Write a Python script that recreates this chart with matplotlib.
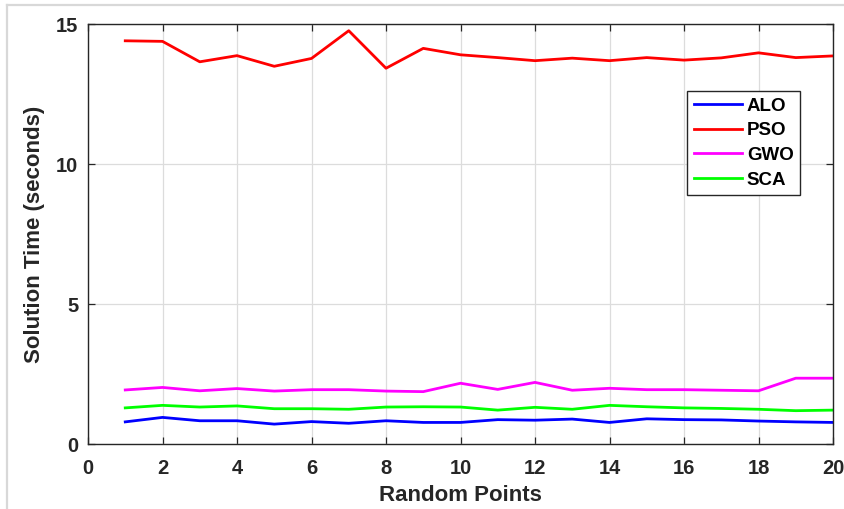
import matplotlib
matplotlib.use("Agg")
import matplotlib.pyplot as plt
from matplotlib.lines import Line2D

x = list(range(1, 21))
alo = [0.79, 0.95, 0.83, 0.83, 0.71, 0.80, 0.74, 0.83, 0.77, 0.77,
       0.87, 0.85, 0.89, 0.77, 0.90, 0.87, 0.86, 0.82, 0.79, 0.77]
pso = [14.40, 14.38, 13.65, 13.87, 13.49, 13.77, 14.76, 13.42, 14.13, 13.90,
       13.80, 13.69, 13.78, 13.69, 13.80, 13.71, 13.79, 13.97, 13.80, 13.86]
gwo = [1.93, 2.02, 1.90, 1.98, 1.89, 1.94, 1.94, 1.89, 1.87, 2.17,
       1.95, 2.20, 1.92, 1.99, 1.94, 1.94, 1.92, 1.90, 2.35, 2.35]
sca = [1.29, 1.38, 1.32, 1.36, 1.26, 1.26, 1.24, 1.32, 1.33, 1.32,
       1.21, 1.31, 1.24, 1.38, 1.33, 1.29, 1.27, 1.24, 1.19, 1.21]
names = ["ALO", "PSO", "GWO", "SCA"]
colors = ["#0000ff", "#ff0000", "#ff00ff", "#00ff00"]
xticks = list(range(0, 21, 2))
yticks = [0, 5, 10, 15]

plt.rcParams['font.family'] = ['Liberation Sans', 'DejaVu Sans']
plt.rcParams['font.weight'] = 'bold'

fig = plt.figure(figsize=(8.44, 5.09), dpi=100)
ax = fig.add_axes([88/844, 65/509, 745/844, 420/509])

for data, name, c in zip([alo, pso, gwo, sca], names, colors):
    ax.plot(x, data, color=c, lw=2.0, label=name)

ax.set_xlim(0, 20)
ax.set_ylim(0, 15)
ax.set_xticks(xticks)
ax.set_yticks(yticks)
ax.grid(True, color="#dcdcdc", lw=0.9)
ax.set_axisbelow(True)
for s in ax.spines.values():
    s.set_color("#262626")
    s.set_linewidth(1.0)
ax.tick_params(direction="in", top=True, right=True, length=5, width=0.9,
               color="#262626", labelsize=14.5, labelcolor="#262626")
ax.tick_params(axis="x", pad=11)
ax.tick_params(axis="y", pad=7)
for lab in ax.get_xticklabels() + ax.get_yticklabels():
    lab.set_fontweight("bold")

ax.set_xlabel("Random Points", fontsize=16, fontweight="bold", color="#262626", labelpad=5)
ax.set_ylabel("Solution Time (seconds)", fontsize=16, fontweight="bold", color="#262626", labelpad=8)

leg = ax.legend(loc="upper left", bbox_to_anchor=(0.804, 0.8405), borderaxespad=0,
                fancybox=False, framealpha=1, edgecolor="#262626",
                prop={"weight": "bold", "size": 13.5},
                handlelength=2.6, handletextpad=0.25, borderpad=0.35, labelspacing=0.4)
leg.get_frame().set_linewidth(1.0)

fig.add_artist(Line2D([7/844, 1.0], [1 - 5/509, 1 - 5/509], transform=fig.transFigure,
                      color="#d8d8d8", lw=1.6))
fig.add_artist(Line2D([7/844, 7/844], [0, 1 - 5/509], transform=fig.transFigure,
                      color="#d8d8d8", lw=1.6))

fig.savefig("out.png", dpi=100)
